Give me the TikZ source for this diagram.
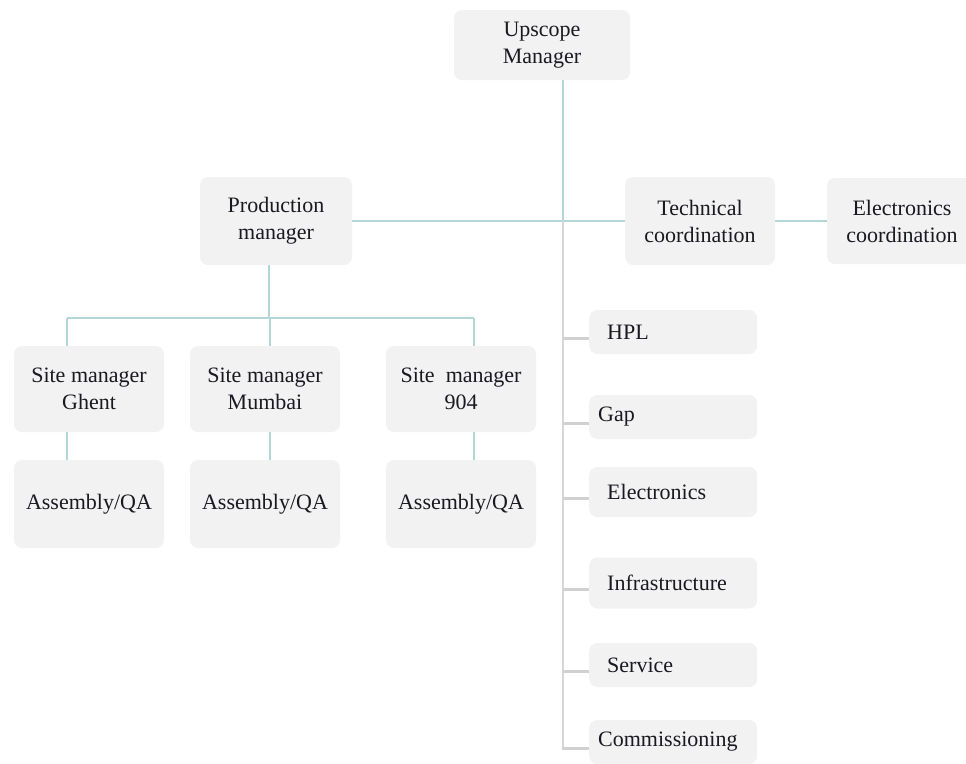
\documentclass[tikz,border=0pt]{standalone}
\usepackage{fontspec}
\setmainfont{Liberation Serif}
\usepackage{xcolor}
\usetikzlibrary{calc}

\begin{document}
\begin{tikzpicture}[x=1pt,y=-1pt,
  box/.style={shape=rectangle,rounded corners=8pt,fill=cbox,draw=none,text=clab,
    font=\fontsize{22}{27}\selectfont,align=center,inner sep=0pt},
  listbox/.style={box,minimum width=168pt,minimum height=44pt,anchor=west,
    align=left,inner xsep=18pt,text width=132pt},
  listnear/.style={inner xsep=9pt,text width=150pt},
  link/.style={draw=clink,line width=1.6pt},
  stem/.style={draw=cstem,line width=1.6pt},
  tick/.style={draw=ctick,line width=3pt}]
\definecolor{cbox}{rgb}{0.949,0.949,0.949}
\definecolor{clab}{rgb}{0.10,0.10,0.13}
\definecolor{clink}{rgb}{0.70,0.84,0.85}
\definecolor{cstem}{rgb}{0.84,0.84,0.84}
\definecolor{ctick}{rgb}{0.82,0.82,0.82}
%
\useasboundingbox (0,0) rectangle (966,763);
%
\node[box,minimum width=176pt,minimum height=70pt] (up) at (542,45) {Upscope\\Manager};
\node[box,minimum width=152pt,minimum height=88pt] (prod) at (276,221) {Production\\manager};
\node[box,minimum width=150pt,minimum height=88pt] (tech) at (700,221) {Technical\\coordination};
\node[box,minimum width=150pt,minimum height=86pt] (elec) at (902,221) {Electronics\\coordination};
%
\node[box,minimum width=150pt,minimum height=86pt] (ghent) at (89,389) {Site manager\\Ghent};
\node[box,minimum width=150pt,minimum height=86pt] (mumbai) at (265,389) {Site manager\\Mumbai};
\node[box,minimum width=150pt,minimum height=86pt] (site904) at (461,389) {Site\ \ manager\\904};
\node[box,minimum width=150pt,minimum height=88pt] (asmghent) at (89,504) {Assembly/QA};
\node[box,minimum width=150pt,minimum height=88pt] (asmmumbai) at (265,504) {Assembly/QA};
\node[box,minimum width=150pt,minimum height=88pt] (asm904) at (461,504) {Assembly/QA};
%
\node[listbox] (hpl) at (589,332) {HPL};
\node[listbox,listnear] (gap) at (589,417) {Gap};
\node[listbox,minimum height=50pt] (electr) at (589,492) {Electronics};
\node[listbox,minimum height=51pt] (infra) at (589,583) {Infrastructure};
\node[listbox] (service) at (589,665) {Service};
\node[listbox,listnear] (comm) at (589,742) {Commissioning};
%
\coordinate (trunk) at ([xshift=21pt]up.south |- prod.east);
\coordinate (bus) at ([xshift=-7pt]prod.south |- 0,318);
%
\draw[link] ([xshift=21pt]up.south) -- (trunk);
\draw[link] (prod.east) -- (tech.west);
\draw[link] (tech.east) -- (elec.west);
\draw[link] ([xshift=-7pt]prod.south) -- (bus);
\draw[link] ([xshift=-22pt]ghent.north |- bus) -- ([xshift=13pt]site904.north |- bus);
\foreach \s/\a/\d in {ghent/asmghent/-22pt,mumbai/asmmumbai/5pt,site904/asm904/13pt}{
  \draw[link] ([xshift=\d]\s.north |- bus) -- ([xshift=\d]\s.north);
  \draw[link] ([xshift=\d]\s.south) -- ([xshift=\d]\a.north);
}
%
\draw[stem] (trunk) -- ([yshift=-8pt]comm.west -| trunk);
\foreach \n in {hpl,gap,electr,infra,service,comm}
  \draw[tick] ([yshift=-6pt]\n.west -| trunk) -- ([yshift=-6pt]\n.west);
%
\end{tikzpicture}
\end{document}
